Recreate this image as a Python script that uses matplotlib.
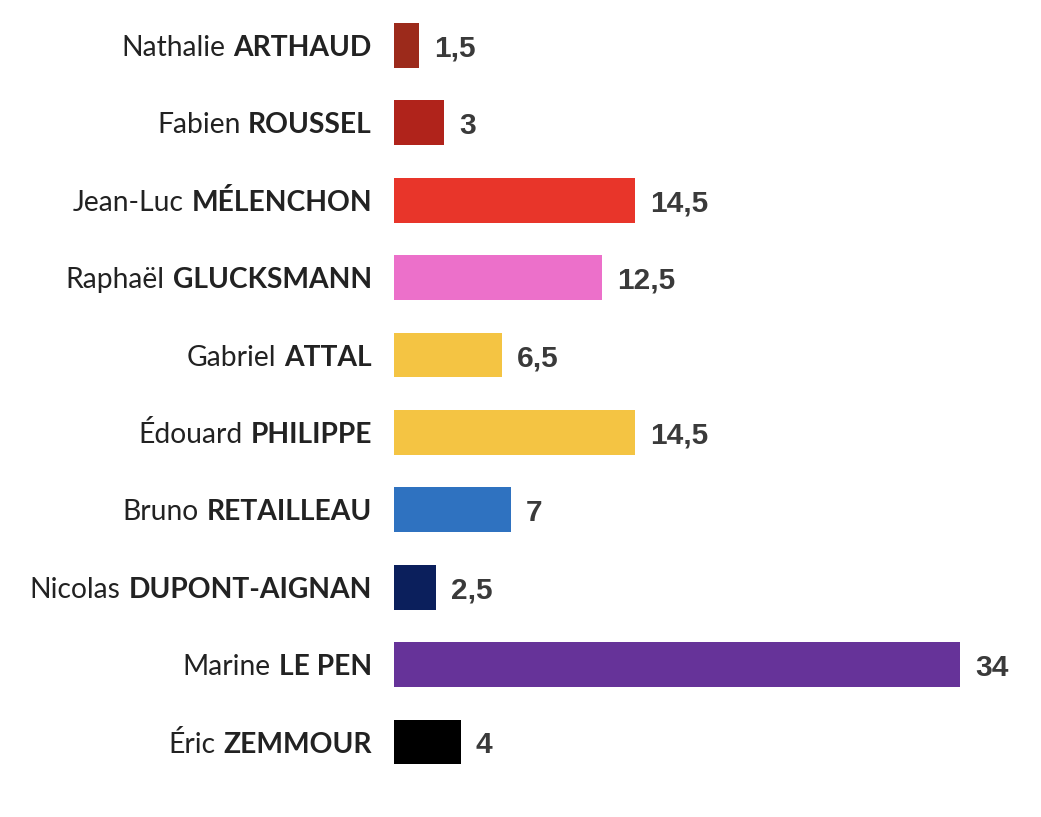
import matplotlib
matplotlib.use("Agg")
import matplotlib.pyplot as plt
import matplotlib.transforms as mtransforms

first_names = ["Nathalie", "Fabien", "Jean-Luc", "Raphaël", "Gabriel",
               "Édouard", "Bruno", "Nicolas", "Marine", "Éric"]
last_names = ["ARTHAUD", "ROUSSEL", "MÉLENCHON", "GLUCKSMANN", "ATTAL",
              "PHILIPPE", "RETAILLEAU", "DUPONT-AIGNAN", "LE PEN", "ZEMMOUR"]
values = [1.5, 3, 14.5, 12.5, 6.5, 14.5, 7, 2.5, 34, 4]
value_labels = ["1,5", "3", "14,5", "12,5", "6,5", "14,5", "7", "2,5", "34", "4"]
colors = ["#9c2a1b", "#b0231b", "#e8352a", "#ec70ca", "#f4c443",
          "#f4c443", "#2f72c0", "#0b1f5c", "#663399", "#000000"]

W, H = 1041, 817
fig = plt.figure(figsize=(W / 100, H / 100), dpi=100)
ax = fig.add_axes([394 / W, 36.3 / H, 1 - 394 / W, 0.9473])

ypos = list(range(len(values)))
ax.barh(ypos, values, height=0.58, color=colors)
ax.set_xlim(0, (W - 394) / 16.65)
ax.set_ylim(len(values) - 0.5, -0.5)
ax.axis("off")

for y, v, lab in zip(ypos, values, value_labels):
    ax.annotate(lab, (v, y), xytext=(15, 0), textcoords="offset pixels",
                ha="left", va="center_baseline", fontsize=21.5,
                fontfamily="Liberation Sans", fontweight="bold", color="#3a3a3a")

renderer = fig.canvas.get_renderer()
trans = mtransforms.blended_transform_factory(fig.transFigure, ax.transData)
label_right = 372
for y, fn, ln in zip(ypos, first_names, last_names):
    t = ax.text(label_right / W, y, ln, transform=trans, ha="right",
                va="center_baseline", fontsize=20.3, fontfamily="Lato",
                fontweight="bold", color="#222222")
    w = t.get_window_extent(renderer).width
    ax.text((label_right - w - 8) / W, y, fn, transform=trans, ha="right",
            va="center_baseline", fontsize=20.3, fontfamily="Lato",
            color="#222222")

fig.savefig("out.png", dpi=100)
